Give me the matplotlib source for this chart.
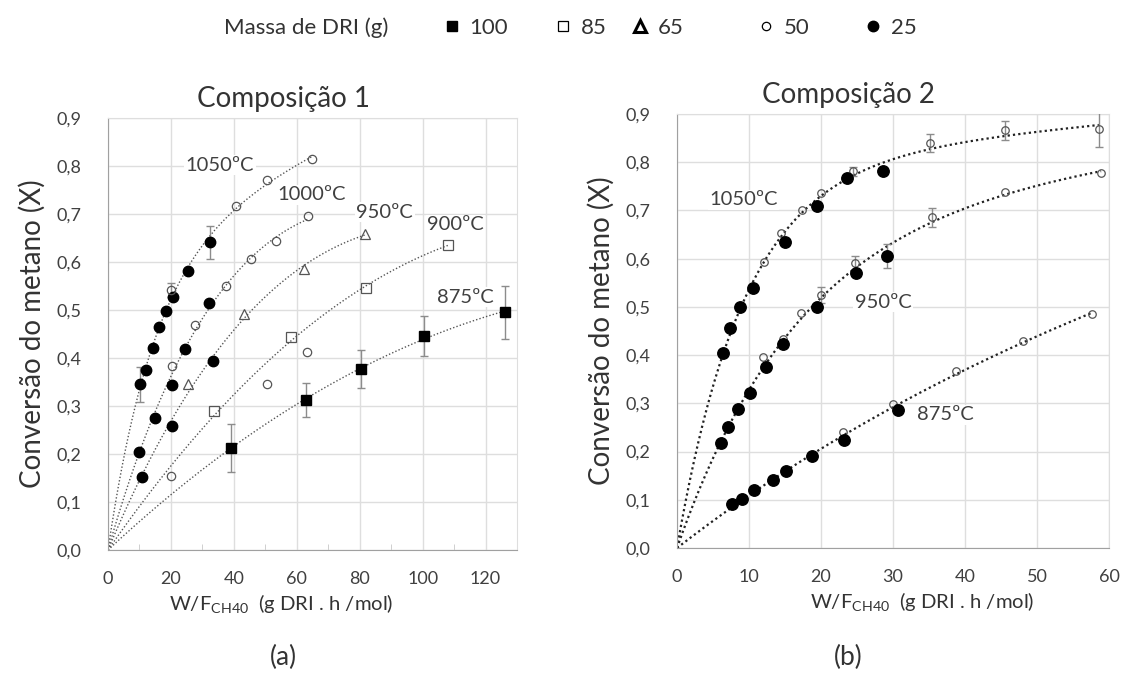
import numpy as np
import matplotlib
matplotlib.use("Agg")
import matplotlib.pyplot as plt
from matplotlib.lines import Line2D
from matplotlib.ticker import MultipleLocator, FuncFormatter

plt.rcParams['font.family'] = ['Lato', 'DejaVu Sans']
plt.rcParams['mathtext.fontset'] = 'custom'
plt.rcParams['mathtext.rm'] = 'Lato'
plt.rcParams['mathtext.it'] = 'Lato:italic'
plt.rcParams['mathtext.bf'] = 'Lato:bold'

TXT = '#333333'

# ---------------- Composição 1 (W/F in g DRI.h/mol, X) ----------------
c1_1050_x25 = [10.2, 12.0, 14.2, 16.2, 18.4, 20.7, 25.5, 32.4]
c1_1050_y25 = [0.345, 0.375, 0.420, 0.464, 0.498, 0.528, 0.582, 0.641]
c1_1050_e25 = [0.036, 0, 0, 0, 0, 0, 0, 0.035]
c1_1050_x50 = [20.1, 40.6, 50.4, 64.9]
c1_1050_y50 = [0.542, 0.717, 0.771, 0.815]
c1_1050_e50 = [0.015, 0, 0, 0]

c1_1000_x25 = [9.8, 14.9, 20.2, 24.4, 32.2]
c1_1000_y25 = [0.204, 0.274, 0.344, 0.418, 0.515]
c1_1000_x50 = [20.2, 27.8, 37.5, 45.4, 53.5, 63.7]
c1_1000_y50 = [0.383, 0.468, 0.549, 0.606, 0.643, 0.695]

c1_950_x25 = [10.7, 20.2, 33.5]
c1_950_y25 = [0.153, 0.259, 0.394]
c1_950_x65 = [25.5, 43.2, 62.2, 81.6]
c1_950_y65 = [0.345, 0.492, 0.586, 0.658]

c1_900_x50 = [19.9]
c1_900_y50 = [0.155]
c1_900_x85 = [33.7, 58.3, 82.1, 108.0]
c1_900_y85 = [0.290, 0.443, 0.546, 0.635]

c1_other_x50 = [50.6, 63.3]
c1_other_y50 = [0.345, 0.412]

c1_875_x100 = [39.2, 62.8, 80.5, 100.3, 126.2]
c1_875_y100 = [0.212, 0.313, 0.377, 0.446, 0.495]
c1_875_e100 = [0.050, 0.035, 0.040, 0.042, 0.056]

# ---------------- Composição 2 ----------------
c2_1050_x25 = [6.4, 7.3, 8.7, 10.6, 15.0, 19.5, 23.6, 28.6]
c2_1050_y25 = [0.404, 0.456, 0.500, 0.540, 0.634, 0.710, 0.767, 0.782]
c2_1050_x50 = [12.1, 14.5, 17.3, 20.0, 24.4, 35.2, 45.5, 58.6]
c2_1050_y50 = [0.594, 0.654, 0.701, 0.737, 0.781, 0.840, 0.866, 0.868]
c2_1050_e50 = [0, 0, 0, 0, 0.010, 0.018, 0.020, 0.037]

c2_950_x25 = [6.1, 7.1, 8.5, 10.1, 12.3, 14.7, 19.4, 24.9, 29.2]
c2_950_y25 = [0.218, 0.250, 0.288, 0.322, 0.375, 0.423, 0.500, 0.570, 0.606]
c2_950_e25 = [0, 0, 0, 0, 0, 0, 0, 0, 0.025]
c2_950_x50 = [12.0, 14.7, 17.2, 20.0, 24.7, 35.4, 45.5, 58.9]
c2_950_y50 = [0.396, 0.434, 0.487, 0.525, 0.590, 0.686, 0.739, 0.778]
c2_950_e50 = [0, 0, 0, 0.017, 0.016, 0.020, 0, 0]

c2_875_x25 = [7.6, 9.0, 10.7, 13.3, 15.2, 18.8, 23.2, 30.7]
c2_875_y25 = [0.091, 0.102, 0.120, 0.141, 0.160, 0.190, 0.224, 0.286]
c2_875_x50 = [23.1, 30.0, 38.8, 48.0, 57.7]
c2_875_y50 = [0.240, 0.298, 0.367, 0.430, 0.485]

legend_masses = [100, 85, 65, 50, 25]

GRAY = '#555555'
mass_style = {
    100: dict(marker='s', mfc='black', mec='black', ms=7.2, mew=1),
    85: dict(marker='s', mfc='none', mec=GRAY, ms=7.2, mew=0.9),
    65: dict(marker='^', mfc='none', mec=GRAY, ms=7.5, mew=0.9),
    50: dict(marker='o', mfc='none', mec=GRAY, ms=6.0, mew=0.9),
    25: dict(marker='o', mfc='black', mec='black', ms=7.5, mew=1),
}


def trend(xs, ys, x_end):
    """Saturating trend through the origin: a(1-exp(-kx)) + b x."""
    x = np.asarray(xs, float)
    y = np.asarray(ys, float)
    best = None
    for k in np.geomspace(1e-3, 1.0, 500):
        A = np.column_stack([1 - np.exp(-k * x), x])
        coef = np.linalg.lstsq(A, y, rcond=None)[0]
        sse = float(np.sum((A @ coef - y) ** 2))
        if best is None or sse < best[0]:
            best = (sse, k, coef)
    _, k, coef = best
    xf = np.linspace(0, x_end, 300)
    return xf, coef[0] * (1 - np.exp(-k * xf)) + coef[1] * xf


def points(ax, x, y, mass, err=None, scale=1.0):
    st = dict(mass_style[mass])
    st['ms'] = st['ms'] * scale
    if err is not None and any(e > 0 for e in err):
        xe = [a for a, e in zip(x, err) if e > 0]
        ye = [b for b, e in zip(y, err) if e > 0]
        ee = [e for e in err if e > 0]
        ax.errorbar(xe, ye, yerr=ee, fmt='none', ecolor='#8c8c8c',
                    elinewidth=1.0, capsize=3, capthick=1.0, zorder=3)
    ax.plot(x, y, ls='none', zorder=4, **st)


def curve(ax, groups, lw=1.0, color='#555555', dots=(1, 1.5)):
    xs = sum((list(g[0]) for g in groups), [])
    ys = sum((list(g[1]) for g in groups), [])
    xf, yf = trend(xs, ys, max(xs))
    ax.plot(xf, yf, color=color, lw=lw, ls=(0, dots), zorder=2)


def style_axes(ax, xmax, xstep, xlabel_x, minor=None):
    ax.set_xlim(0, xmax)
    ax.set_ylim(0, 0.9)
    ax.xaxis.set_major_locator(MultipleLocator(xstep))
    ax.yaxis.set_major_locator(MultipleLocator(0.1))
    ax.yaxis.set_major_formatter(FuncFormatter(lambda v, p: f"{v:.1f}".replace('.', ',')))
    ax.xaxis.set_major_formatter(FuncFormatter(lambda v, p: f"{v:.0f}"))
    ax.grid(True, color='#dedede', lw=1.0, zorder=0)
    ax.set_axisbelow(True)
    for s in ('top', 'right'):
        ax.spines[s].set_color('#dedede')
    for s in ('left', 'bottom'):
        ax.spines[s].set_color('#a0a0a0')
    ax.tick_params(axis='y', length=0, pad=19, labelsize=13, labelcolor='#404040')
    ax.tick_params(axis='x', which='major', length=0, pad=15, labelsize=13, labelcolor='#404040')
    if minor:
        ax.xaxis.set_minor_locator(MultipleLocator(minor))
        ax.tick_params(axis='x', which='minor', direction='in', length=4,
                       color='#c8c8c8')
    ax.set_ylabel('Conversão do metano (X)', fontsize=20, color=TXT, labelpad=8)
    ax.set_xlabel(r'W/F$_{\mathrm{CH40}}$  (g DRI . h /mol)', fontsize=14.6,
                  color=TXT, labelpad=4)
    ax.xaxis.label.set_x(xlabel_x)


def temp_label(ax, x, y, text):
    ax.text(x, y, text, fontsize=14.5, color='#404040', ha='center', va='center',
            zorder=5, bbox=dict(facecolor='white', edgecolor='none', pad=1.0))


fig = plt.figure(figsize=(11.26, 6.73), dpi=100)
ax1 = fig.add_axes([108 / 1126, 1 - 550 / 673, 409 / 1126, 432 / 673])
ax2 = fig.add_axes([677 / 1126, 1 - 548 / 673, 432 / 1126, 434 / 673])

# ---- Composição 1 ----
style_axes(ax1, 130, 20, 0.423, minor=10)
curve(ax1, [(c1_1050_x25, c1_1050_y25), (c1_1050_x50, c1_1050_y50)])
curve(ax1, [(c1_1000_x25, c1_1000_y25), (c1_1000_x50, c1_1000_y50)])
curve(ax1, [(c1_950_x25, c1_950_y25), (c1_950_x65, c1_950_y65)])
curve(ax1, [(c1_900_x50, c1_900_y50), (c1_900_x85, c1_900_y85)])
curve(ax1, [(c1_875_x100, c1_875_y100)])

points(ax1, c1_1050_x25, c1_1050_y25, 25, c1_1050_e25)
points(ax1, c1_1050_x50, c1_1050_y50, 50, c1_1050_e50)
points(ax1, c1_1000_x25, c1_1000_y25, 25)
points(ax1, c1_1000_x50, c1_1000_y50, 50)
points(ax1, c1_950_x25, c1_950_y25, 25)
points(ax1, c1_950_x65, c1_950_y65, 65)
points(ax1, c1_900_x50, c1_900_y50, 50)
points(ax1, c1_900_x85, c1_900_y85, 85)
points(ax1, c1_other_x50, c1_other_y50, 50)
points(ax1, c1_875_x100, c1_875_y100, 100, c1_875_e100)

temp_label(ax1, 35.6, 0.802, '1050ºC')
temp_label(ax1, 64.7, 0.740, '1000ºC')
temp_label(ax1, 88.0, 0.704, '950ºC')
temp_label(ax1, 110.5, 0.678, '900ºC')
temp_label(ax1, 113.7, 0.527, '875ºC')
ax1.set_title('Composição 1', fontsize=20, color=TXT, x=0.428, pad=8)

# ---- Composição 2 ----
style_axes(ax2, 60, 10, 0.567)
dark = '#222222'
curve(ax2, [(c2_1050_x25, c2_1050_y25), (c2_1050_x50, c2_1050_y50)], lw=1.6, color=dark, dots=(1, 1.4))
curve(ax2, [(c2_950_x25, c2_950_y25), (c2_950_x50, c2_950_y50)], lw=1.6, color=dark, dots=(1, 1.4))
curve(ax2, [(c2_875_x25, c2_875_y25), (c2_875_x50, c2_875_y50)], lw=1.6, color=dark, dots=(1, 1.4))

points(ax2, c2_1050_x50, c2_1050_y50, 50, c2_1050_e50, scale=0.9)
points(ax2, c2_1050_x25, c2_1050_y25, 25, scale=1.1)
points(ax2, c2_950_x50, c2_950_y50, 50, c2_950_e50, scale=0.9)
points(ax2, c2_950_x25, c2_950_y25, 25, c2_950_e25, scale=1.1)
points(ax2, c2_875_x50, c2_875_y50, 50, scale=0.9)
points(ax2, c2_875_x25, c2_875_y25, 25, scale=1.1)

temp_label(ax2, 9.2, 0.722, '1050ºC')
temp_label(ax2, 28.6, 0.510, '950ºC')
temp_label(ax2, 37.3, 0.276, '875ºC')
ax2.set_title('Composição 2', fontsize=20, color=TXT, x=0.398, pad=8)

# ---- shared legend: one entry per mass, spaced along the top ----
fig.text(224 / 1126, 1 - 28 / 673, 'Massa de DRI (g)', fontsize=16, color=TXT,
         ha='left', va='center')
legend_marker_px = [452, 563, 640, 766, 873]
for m, px in zip(legend_masses, legend_marker_px):
    st = dict(mass_style[m])
    st['mec'] = 'black'
    if m == 65:
        st['mew'] = 2.2
        st['ms'] = 8
    h = Line2D([], [], ls='none', **st)
    fig.legend([h], [str(m)], frameon=False, fontsize=16, loc='center left',
               bbox_to_anchor=((px - 9) / 1126, 1 - 28 / 673),
               handlelength=0.8, handletextpad=0.4, labelcolor=TXT,
               borderpad=0, borderaxespad=0)

fig.text(283 / 1126, 1 - 657 / 673, '(a)', fontsize=19, color=TXT, ha='center', va='center')
fig.text(848 / 1126, 1 - 657 / 673, '(b)', fontsize=19, color=TXT, ha='center', va='center')

fig.savefig('out.png', dpi=100, facecolor='white')
